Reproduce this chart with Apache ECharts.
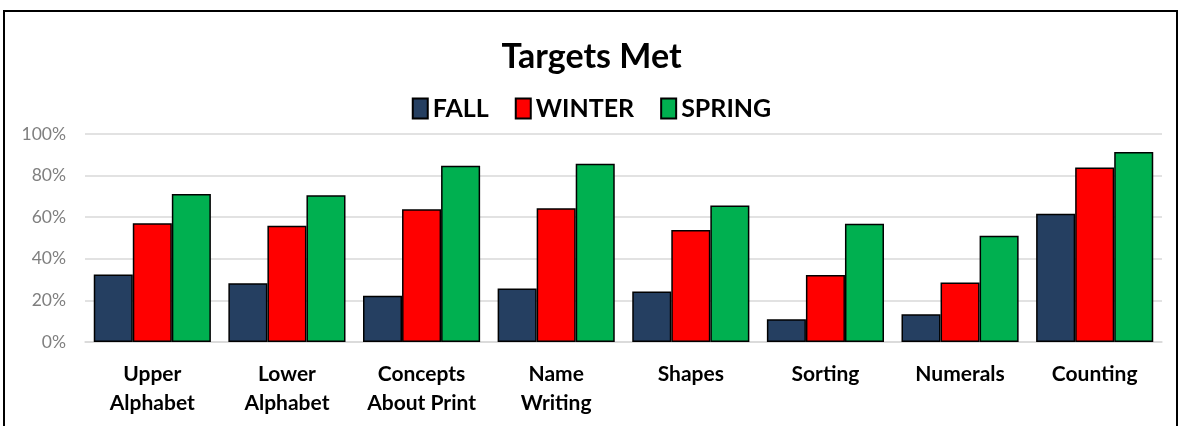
<!DOCTYPE html>
<html>
<head>
<meta charset="utf-8">
<script src="https://cdn.jsdelivr.net/npm/echarts@6/dist/echarts.min.js"></script>
<style>
html,body{margin:0;padding:0;background:#fff;}
#chart{width:1183px;height:426px;}
</style>
</head>
<body>
<div id="chart"></div>
<script>
const categories = ['Upper\nAlphabet', 'Lower\nAlphabet', 'Concepts\nAbout Print', 'Name\nWriting', 'Shapes', 'Sorting', 'Numerals', 'Counting'];
const fall   = [0.325, 0.283, 0.222, 0.257, 0.243, 0.109, 0.133, 0.616];
const winter = [0.571, 0.559, 0.638, 0.643, 0.539, 0.322, 0.286, 0.839];
const spring = [0.711, 0.706, 0.847, 0.857, 0.656, 0.569, 0.511, 0.913];
const yTicks = [0, 0.2, 0.4, 0.6, 0.8, 1.0];

const FONT = 'Lato, "Open Sans", sans-serif';
const chart = echarts.init(document.getElementById('chart'), null, {renderer: 'canvas'});
const barStyle = (color) => ({color: color, borderColor: '#000', borderWidth: 1.5});

chart.setOption({
  animation: false,
  backgroundColor: '#fff',
  graphic: [{
    type: 'rect',
    shape: {x: 4, y: 11, width: 1173, height: 430},
    style: {fill: 'none', stroke: '#000', lineWidth: 2},
    silent: true
  }],
  title: {
    text: 'Targets Met',
    left: 'center',
    top: 35,
    textStyle: {fontFamily: FONT, fontWeight: 'bold', fontSize: 34, color: '#000'}
  },
  legend: {
    top: 91,
    left: 'center',
    itemWidth: 15,
    itemHeight: 20,
    itemGap: 26,
    icon: 'rect',
    textStyle: {fontFamily: FONT, fontWeight: 'bold', fontSize: 25, color: '#000'},
    data: ['FALL', 'WINTER', 'SPRING']
  },
  grid: {left: 85, right: 21, top: 134, bottom: 84, containLabel: false},
  xAxis: {
    type: 'category',
    data: categories,
    axisLine: {show: true, lineStyle: {color: '#d9d9d9', width: 1.5}},
    axisTick: {show: false},
    axisLabel: {
      interval: 0,
      margin: 18,
      fontFamily: FONT,
      fontWeight: 'bold',
      fontSize: 21,
      lineHeight: 29,
      color: '#000'
    }
  },
  yAxis: {
    type: 'value',
    min: yTicks[0],
    max: yTicks[yTicks.length - 1],
    interval: 0.2,
    axisLine: {show: false},
    axisTick: {show: false},
    splitLine: {lineStyle: {color: '#d9d9d9', width: 1.5}},
    axisLabel: {
      margin: 19,
      fontFamily: FONT,
      fontSize: 17.5,
      color: '#7f7f7f',
      formatter: (v) => Math.round(v * 100) + '%'
    }
  },
  series: [
    {name: 'FALL', type: 'bar', data: fall, itemStyle: barStyle('#253F61'), barGap: '0%', barCategoryGap: '13%'},
    {name: 'WINTER', type: 'bar', data: winter, itemStyle: barStyle('#FF0000'), barGap: '0%', barCategoryGap: '13%'},
    {name: 'SPRING', type: 'bar', data: spring, itemStyle: barStyle('#00B050'), barGap: '0%', barCategoryGap: '13%'}
  ]
});
</script>
</body>
</html>
